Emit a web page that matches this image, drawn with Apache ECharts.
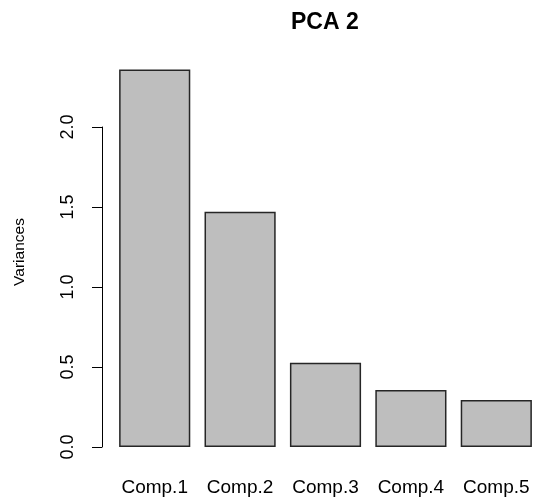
<!DOCTYPE html>
<html>
<head>
<meta charset="utf-8">
<script src="https://cdn.jsdelivr.net/npm/echarts@6/dist/echarts.min.js"></script>
<style>
  html, body { margin: 0; padding: 0; background: #fff; }
  #chart { width: 534px; height: 499px; }
</style>
</head>
<body>
<div id="chart"></div>
<script>
// Component variances of the second PCA
const components = ['Comp.1', 'Comp.2', 'Comp.3', 'Comp.4', 'Comp.5'];
const variances = [2.36, 1.47, 0.527, 0.356, 0.294];
const yTicks = [0, 0.5, 1.0, 1.5, 2.0];

const chart = echarts.init(document.getElementById('chart'), null, { renderer: 'canvas' });
const font = '"Liberation Sans", Arial, Helvetica, sans-serif';

chart.setOption({
  backgroundColor: '#ffffff',
  animation: false,
  title: {
    text: 'PCA 2',
    left: 286,
    top: 6,
    textStyle: { fontFamily: font, fontSize: 23, fontWeight: 'bold', color: '#000' }
  },
  grid: {
    left: 112, top: 127, width: 427, height: 320,
    containLabel: false,
    outerBoundsMode: 'none'
  },
  xAxis: {
    type: 'category',
    data: components,
    axisLine: { show: false },
    axisTick: { show: false },
    axisLabel: {
      interval: 0,
      hideOverlap: false,
      fontFamily: font,
      fontSize: 19,
      color: '#000',
      margin: 31
    },
    splitLine: { show: false }
  },
  yAxis: {
    type: 'value',
    min: yTicks[0],
    max: yTicks[yTicks.length - 1],
    interval: 0.5,
    offset: 10,
    axisLine: { show: true, lineStyle: { color: '#000', width: 1 } },
    axisTick: { show: true, length: 10, lineStyle: { color: '#000', width: 1 } },
    axisLabel: {
      rotate: 90,
      margin: 25,
      fontFamily: font,
      fontSize: 18,
      color: '#000',
      formatter: v => v.toFixed(1)
    },
    splitLine: { show: false }
  },
  graphic: [{
    type: 'text',
    x: 20,
    y: 252,
    rotation: Math.PI / 2,
    style: {
      text: 'Variances',
      fontFamily: font,
      fontSize: 15.5,
      fill: '#000',
      align: 'center',
      verticalAlign: 'middle'
    }
  }],
  series: [{
    type: 'bar',
    data: variances,
    clip: false,
    barCategoryGap: '16.67%',
    itemStyle: { color: '#bebebe', borderColor: '#262626', borderWidth: 1.5 }
  }]
});
</script>
</body>
</html>
